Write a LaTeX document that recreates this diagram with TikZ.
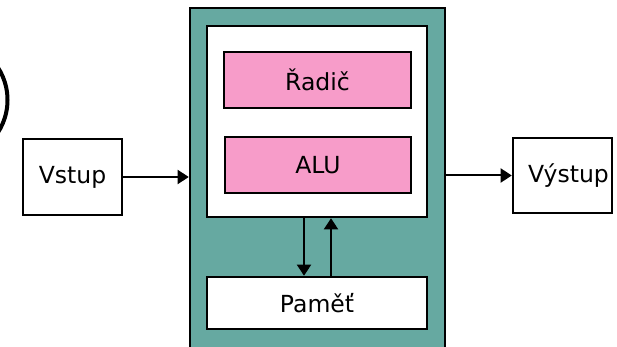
\documentclass[tikz,border=0pt]{standalone}
\usepackage{fontspec}
\setmainfont{DejaVu Sans}
\usetikzlibrary{arrows.meta}
\definecolor{tealbg}{HTML}{66A9A1}
\definecolor{pinkbox}{HTML}{F79CC9}
\tikzset{
  box/.style={draw=black, line width=2.6pt, rectangle, inner sep=0pt, font=\fontsize{23.5}{28}\selectfont},
  arr/.style={draw=black, line width=2pt, -{Triangle[length=11pt,width=14pt]}},
}
\begin{document}
\begin{tikzpicture}[x=1pt,y=-1pt]
\clip (0,0) rectangle (617,347);
\fill[white] (0,0) rectangle (617,347);
% partial circle at left edge
\draw[line width=4pt] (-52.5,100) circle[radius=60];
\node[box, fill=tealbg, minimum width=255pt, minimum height=360pt] (cpu) at (317.5,188) {};
\node[box, fill=white, minimum width=220pt, minimum height=191pt] (inner) at (317,121.5) {};
\node[box, fill=pinkbox, minimum width=187pt, minimum height=56pt] (radic) at (317.5,80) {Řadič};
\node[box, fill=pinkbox, minimum width=186pt, minimum height=56pt] (alu) at (318,165) {ALU};
\node[box, fill=white, minimum width=220pt, minimum height=52pt] (pamet) at (317,303) {Paměť};
\node[box, fill=white, minimum width=99pt, minimum height=76pt] (vstup) at (72.5,177) {Vstup};
\node[box, fill=white, minimum width=99pt, minimum height=75pt] (vystup) at (562.5,175.5) {};
\node[font=\fontsize{23.5}{28}\selectfont, inner sep=0pt] (vystuptext) at (568.5,175.5) {Výstup};
\draw[arr] (vstup.east) -- (vstup.east -| cpu.west);
\draw[arr] (vystup.west -| cpu.east) -- (vystup.west);
\draw[arr] ([xshift=-13pt]inner.south) -- ([xshift=-13pt]pamet.north);
\draw[arr] ([xshift=14pt]pamet.north) -- ([xshift=14pt]inner.south);
\end{tikzpicture}
\end{document}
